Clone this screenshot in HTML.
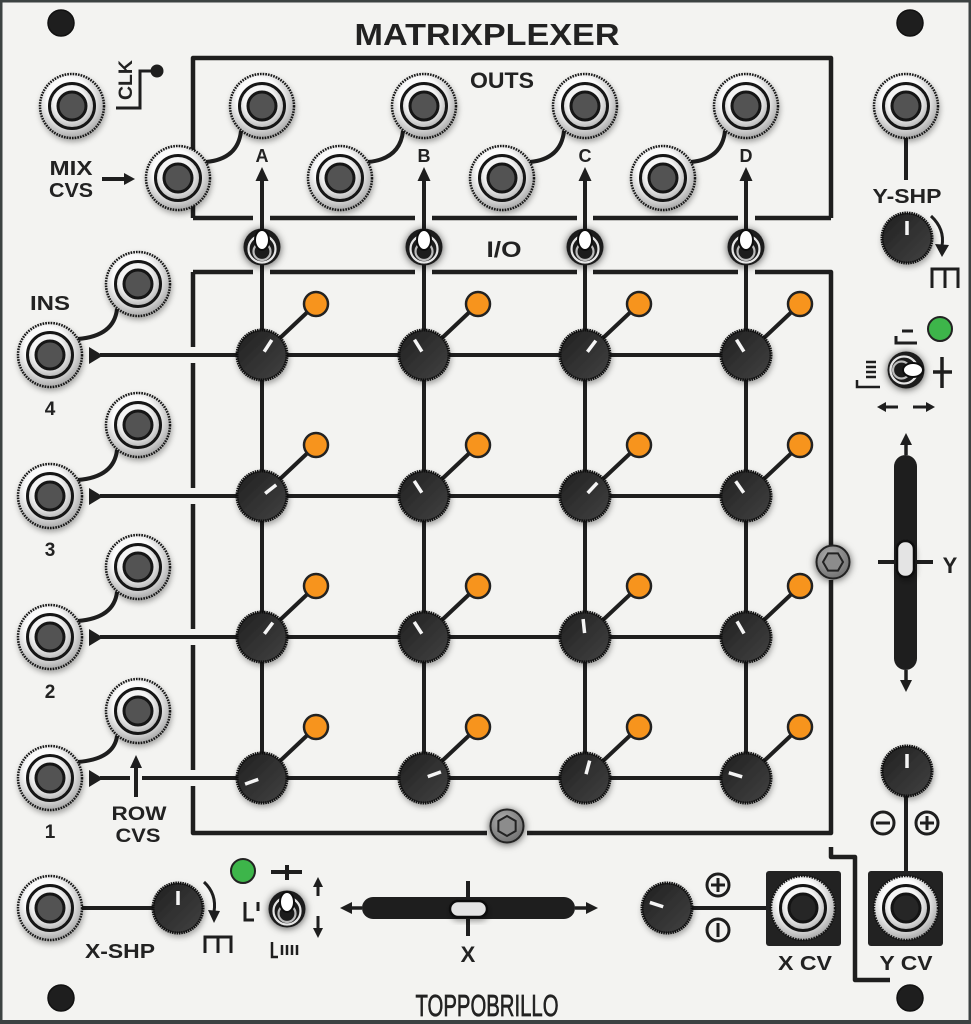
<!DOCTYPE html>
<html><head><meta charset="utf-8"><style>
html,body{margin:0;padding:0;background:#f3f3f1;}
svg{display:block}
text{font-family:"Liberation Sans",sans-serif;font-weight:bold;fill:#222;}
</style></head><body>
<svg width="971" height="1024" viewBox="0 0 971 1024" xmlns="http://www.w3.org/2000/svg" xmlns:xlink="http://www.w3.org/1999/xlink">
<defs>
 <radialGradient id="jg" cx="0.45" cy="0.4" r="0.62">
  <stop offset="0.55" stop-color="#fbfbfb"/><stop offset="1" stop-color="#a4a4a4"/>
 </radialGradient>
 <radialGradient id="jg2" cx="0.45" cy="0.4" r="0.62">
  <stop offset="0.55" stop-color="#f4f4f4"/><stop offset="1" stop-color="#b2b2b2"/>
 </radialGradient>
 <linearGradient id="kg" x1="0" y1="0" x2="1" y2="1">
  <stop offset="0" stop-color="#202020"/><stop offset="1" stop-color="#424242"/>
 </linearGradient>
 <radialGradient id="hg" cx="0.4" cy="0.35" r="0.7">
  <stop offset="0" stop-color="#b0b0b0"/><stop offset="1" stop-color="#6e6e6e"/>
 </radialGradient>
 <filter id="sh" x="-50%" y="-50%" width="200%" height="200%">
  <feDropShadow dx="1" dy="3" stdDeviation="3" flood-color="#000" flood-opacity="0.35"/>
 </filter>
 <filter id="glow" x="-80%" y="-80%" width="260%" height="260%">
  <feDropShadow dx="0" dy="1" stdDeviation="4" flood-color="#000" flood-opacity="0.65"/>
 </filter>
 <g id="jack">
  <circle r="32" fill="url(#jg)" stroke="#141414" stroke-width="2.5" stroke-dasharray="1.6 1.1"/>
  <circle r="22.5" fill="url(#jg2)" stroke="#141414" stroke-width="3"/>
  <circle r="14" fill="#525252" stroke="#141414" stroke-width="3"/>
 </g>
 <g id="jackd">
  <circle r="32" fill="url(#jg)" stroke="#141414" stroke-width="2.5" stroke-dasharray="1.6 1.1"/>
  <circle r="22.5" fill="url(#jg2)" stroke="#141414" stroke-width="3"/>
  <circle r="14" fill="#262626" stroke="#141414" stroke-width="3"/>
 </g>
 <g id="knob">
  <circle r="25" fill="url(#kg)" stroke="#111" stroke-width="3" stroke-dasharray="1.5 0.8"/>
 </g>
 <g id="tog">
  <circle r="18.5" fill="#1c1c1c"/>
  <circle cy="2" r="13.5" fill="none" stroke="#e6e6e6" stroke-width="2.2"/>
  <circle cy="4.5" r="8.5" fill="none" stroke="#bcbcbc" stroke-width="2.2"/>
  <ellipse cy="-7" rx="7" ry="10" fill="#fff" stroke="#111" stroke-width="2"/>
 </g>
</defs>

<!-- panel -->
<rect x="1.25" y="1.25" width="968.5" height="1021.5" fill="#f3f3f1" stroke="#3c4242" stroke-width="2.5"/>
<rect x="0" y="1020" width="971" height="4" fill="#3c4242"/>

<!-- screw holes -->
<g fill="#1e1e1e" stroke="#111" stroke-width="1.5">
 <circle cx="61" cy="23" r="13"/>
 <circle cx="910" cy="23" r="13"/>
 <circle cx="61" cy="998" r="13"/>
 <circle cx="910" cy="998" r="13"/>
</g>

<!-- title -->
<text x="487" y="45" font-size="31" text-anchor="middle" textLength="265" lengthAdjust="spacingAndGlyphs">MATRIXPLEXER</text>

<!-- boxes -->
<g fill="none" stroke="#1e1e1e" stroke-width="4.5" stroke-linejoin="round">
 <path d="M193,218 V58 H831 V218"/>
 <path d="M193,218 H253 M270,218 H415 M432,218 H577 M593,218 H738 M755,218 H831"/>
 <path d="M193,272 H253 M270,272 H415 M432,272 H577 M593,272 H738 M755,272 H831 V545 M831,580 V833 H527 M487,833 H193 V786 M193,770 V645 M193,629 V504 M193,488 V363 M193,347 V272"/>
 <path d="M831,847 V857 H855 V980 H890"/>
</g>

<!-- grid lines -->
<g stroke="#1e1e1e" stroke-width="4" fill="none">
 <line x1="262" y1="180" x2="262" y2="778"/>
 <line x1="424" y1="180" x2="424" y2="778"/>
 <line x1="585" y1="180" x2="585" y2="778"/>
 <line x1="746" y1="180" x2="746" y2="778"/>
 <line x1="100" y1="355" x2="746" y2="355"/>
 <line x1="100" y1="496" x2="746" y2="496"/>
 <line x1="100" y1="637" x2="746" y2="637"/>
 <path d="M100,778 H130 M142,778 H746"/>
 <line x1="136" y1="797" x2="136" y2="766"/>
 <path d="M262,355 l54,-51 M424,355 l54,-51 M585,355 l54,-51 M746,355 l54,-51"/>
 <path d="M262,496 l54,-51 M424,496 l54,-51 M585,496 l54,-51 M746,496 l54,-51"/>
 <path d="M262,637 l54,-51 M424,637 l54,-51 M585,637 l54,-51 M746,637 l54,-51"/>
 <path d="M262,778 l54,-51 M424,778 l54,-51 M585,778 l54,-51 M746,778 l54,-51"/>
 <path d="M206,162 Q238,159 241,131"/>
 <path d="M368,162 Q400,159 403,131"/>
 <path d="M530,162 Q561,159 564,131"/>
 <path d="M691,162 Q722,159 725,131"/>
 <path d="M78,339 Q114,336 117,309"/>
 <path d="M78,480 Q114,477 117,450"/>
 <path d="M78,621 Q114,618 117,592"/>
 <path d="M78,762 Q114,759 117,736"/>
 <line x1="906" y1="138" x2="906" y2="180"/>
 <line x1="82" y1="908" x2="156" y2="908"/>
 <line x1="688" y1="908" x2="775" y2="908"/>
 <line x1="906" y1="795" x2="906" y2="873"/>
 <line x1="102" y1="179" x2="128" y2="179"/>
</g>

<!-- arrowheads -->
<g fill="#1e1e1e">
 <polygon points="262,167 255.5,181 268.5,181"/>
 <polygon points="424,167 417.5,181 430.5,181"/>
 <polygon points="585,167 578.5,181 591.5,181"/>
 <polygon points="746,167 739.5,181 752.5,181"/>
 <polygon points="136,755 130,768 142,768"/>
 <polygon points="135,179 124,173 124,185"/>
 <polygon points="89,347 89,364 103,355.5"/>
 <polygon points="89,488 89,505 103,496.5"/>
 <polygon points="89,629 89,646 103,637.5"/>
 <polygon points="89,770 89,787 103,778.5"/>
</g>

<!-- orange dots -->
<g fill="#f7941d" stroke="#222" stroke-width="2.5">
 <circle cx="316" cy="304" r="12"/><circle cx="478" cy="304" r="12"/><circle cx="639" cy="304" r="12"/><circle cx="800" cy="304" r="12"/>
 <circle cx="316" cy="445" r="12"/><circle cx="478" cy="445" r="12"/><circle cx="639" cy="445" r="12"/><circle cx="800" cy="445" r="12"/>
 <circle cx="316" cy="586" r="12"/><circle cx="478" cy="586" r="12"/><circle cx="639" cy="586" r="12"/><circle cx="800" cy="586" r="12"/>
 <circle cx="316" cy="727" r="12"/><circle cx="478" cy="727" r="12"/><circle cx="639" cy="727" r="12"/><circle cx="800" cy="727" r="12"/>
</g>

<!-- knobs -->
<g>
 <g transform="translate(262,355)"><use xlink:href="#knob" href="#knob" filter="url(#sh)"/><line x1="0" y1="-4" x2="0" y2="-18" stroke="#f5f5f5" stroke-width="3.5" transform="rotate(33)"/></g>
 <g transform="translate(424,355)"><use xlink:href="#knob" href="#knob" filter="url(#sh)"/><line x1="0" y1="-4" x2="0" y2="-18" stroke="#f5f5f5" stroke-width="3.5" transform="rotate(-32)"/></g>
 <g transform="translate(585,355)"><use xlink:href="#knob" href="#knob" filter="url(#sh)"/><line x1="0" y1="-4" x2="0" y2="-18" stroke="#f5f5f5" stroke-width="3.5" transform="rotate(37)"/></g>
 <g transform="translate(746,355)"><use xlink:href="#knob" href="#knob" filter="url(#sh)"/><line x1="0" y1="-4" x2="0" y2="-18" stroke="#f5f5f5" stroke-width="3.5" transform="rotate(-32)"/></g>

 <g transform="translate(262,496)"><use xlink:href="#knob" href="#knob" filter="url(#sh)"/><line x1="0" y1="-4" x2="0" y2="-18" stroke="#f5f5f5" stroke-width="3.5" transform="rotate(52)"/></g>
 <g transform="translate(424,496)"><use xlink:href="#knob" href="#knob" filter="url(#sh)"/><line x1="0" y1="-4" x2="0" y2="-18" stroke="#f5f5f5" stroke-width="3.5" transform="rotate(-33)"/></g>
 <g transform="translate(585,496)"><use xlink:href="#knob" href="#knob" filter="url(#sh)"/><line x1="0" y1="-4" x2="0" y2="-18" stroke="#f5f5f5" stroke-width="3.5" transform="rotate(43)"/></g>
 <g transform="translate(746,496)"><use xlink:href="#knob" href="#knob" filter="url(#sh)"/><line x1="0" y1="-4" x2="0" y2="-18" stroke="#f5f5f5" stroke-width="3.5" transform="rotate(-35)"/></g>

 <g transform="translate(262,637)"><use xlink:href="#knob" href="#knob" filter="url(#sh)"/><line x1="0" y1="-4" x2="0" y2="-18" stroke="#f5f5f5" stroke-width="3.5" transform="rotate(37)"/></g>
 <g transform="translate(424,637)"><use xlink:href="#knob" href="#knob" filter="url(#sh)"/><line x1="0" y1="-4" x2="0" y2="-18" stroke="#f5f5f5" stroke-width="3.5" transform="rotate(-33)"/></g>
 <g transform="translate(585,637)"><use xlink:href="#knob" href="#knob" filter="url(#sh)"/><line x1="0" y1="-4" x2="0" y2="-18" stroke="#f5f5f5" stroke-width="3.5" transform="rotate(-6)"/></g>
 <g transform="translate(746,637)"><use xlink:href="#knob" href="#knob" filter="url(#sh)"/><line x1="0" y1="-4" x2="0" y2="-18" stroke="#f5f5f5" stroke-width="3.5" transform="rotate(-30)"/></g>

 <g transform="translate(262,778)"><use xlink:href="#knob" href="#knob" filter="url(#sh)"/><line x1="0" y1="-4" x2="0" y2="-18" stroke="#f5f5f5" stroke-width="3.5" transform="rotate(250)"/></g>
 <g transform="translate(424,778)"><use xlink:href="#knob" href="#knob" filter="url(#sh)"/><line x1="0" y1="-4" x2="0" y2="-18" stroke="#f5f5f5" stroke-width="3.5" transform="rotate(70)"/></g>
 <g transform="translate(585,778)"><use xlink:href="#knob" href="#knob" filter="url(#sh)"/><line x1="0" y1="-4" x2="0" y2="-18" stroke="#f5f5f5" stroke-width="3.5" transform="rotate(15)"/></g>
 <g transform="translate(746,778)"><use xlink:href="#knob" href="#knob" filter="url(#sh)"/><line x1="0" y1="-4" x2="0" y2="-18" stroke="#f5f5f5" stroke-width="3.5" transform="rotate(287)"/></g>

 <g transform="translate(907,238)"><use xlink:href="#knob" href="#knob" filter="url(#sh)"/><line x1="0" y1="-3" x2="0" y2="-17" stroke="#f5f5f5" stroke-width="3.5"/></g>
 <g transform="translate(178,908)"><use xlink:href="#knob" href="#knob" filter="url(#sh)"/><line x1="0" y1="-3" x2="0" y2="-17" stroke="#f5f5f5" stroke-width="3.5"/></g>
 <g transform="translate(907,771)"><use xlink:href="#knob" href="#knob" filter="url(#sh)"/><line x1="0" y1="-3" x2="0" y2="-17" stroke="#f5f5f5" stroke-width="3.5"/></g>
 <g transform="translate(667,908)"><use xlink:href="#knob" href="#knob" filter="url(#sh)"/><line x1="0" y1="-4" x2="0" y2="-18" stroke="#f5f5f5" stroke-width="3.5" transform="rotate(288)"/></g>
</g>

<!-- jacks -->
<g filter="url(#sh)">
 <use xlink:href="#jack" href="#jack" x="72" y="106"/>
 <use xlink:href="#jack" href="#jack" x="178" y="178"/>
 <use xlink:href="#jack" href="#jack" x="262" y="106"/>
 <use xlink:href="#jack" href="#jack" x="340" y="178"/>
 <use xlink:href="#jack" href="#jack" x="424" y="106"/>
 <use xlink:href="#jack" href="#jack" x="502" y="178"/>
 <use xlink:href="#jack" href="#jack" x="585" y="106"/>
 <use xlink:href="#jack" href="#jack" x="663" y="178"/>
 <use xlink:href="#jack" href="#jack" x="746" y="106"/>
 <use xlink:href="#jack" href="#jack" x="906" y="106"/>
 <use xlink:href="#jack" href="#jack" x="50" y="355"/>
 <use xlink:href="#jack" href="#jack" x="138" y="284"/>
 <use xlink:href="#jack" href="#jack" x="50" y="496"/>
 <use xlink:href="#jack" href="#jack" x="138" y="425"/>
 <use xlink:href="#jack" href="#jack" x="50" y="637"/>
 <use xlink:href="#jack" href="#jack" x="138" y="567"/>
 <use xlink:href="#jack" href="#jack" x="50" y="778"/>
 <use xlink:href="#jack" href="#jack" x="138" y="711"/>
 <use xlink:href="#jack" href="#jack" x="50" y="908"/>
</g>

<!-- CV boxes -->
<rect x="766" y="871" width="75" height="75" rx="3" fill="#222"/>
<rect x="868" y="871" width="75" height="75" rx="3" fill="#222"/>
<use xlink:href="#jackd" href="#jackd" x="803" y="908"/>
<use xlink:href="#jackd" href="#jackd" x="906" y="908"/>

<!-- toggles -->
<g filter="url(#glow)">
 <use xlink:href="#tog" href="#tog" x="262" y="247"/>
 <use xlink:href="#tog" href="#tog" x="424" y="247"/>
 <use xlink:href="#tog" href="#tog" x="585" y="247"/>
 <use xlink:href="#tog" href="#tog" x="746" y="247"/>
 <use xlink:href="#tog" href="#tog" x="287" y="909"/>
 <g transform="translate(906,370) rotate(90)"><use xlink:href="#tog" href="#tog"/></g>
</g>

<!-- hex screws -->
<g filter="url(#glow)">
 <g transform="translate(833,562)">
  <circle r="16.5" fill="url(#hg)" stroke="#222" stroke-width="2"/>
  <polygon points="10,0 5,8.66 -5,8.66 -10,0 -5,-8.66 5,-8.66" fill="#8c8c8c" stroke="#222" stroke-width="2"/>
 </g>
 <g transform="translate(507,826)">
  <circle r="16.5" fill="url(#hg)" stroke="#222" stroke-width="2"/>
  <polygon points="0,-10 8.66,-5 8.66,5 0,10 -8.66,5 -8.66,-5" fill="#8c8c8c" stroke="#222" stroke-width="2"/>
 </g>
</g>

<!-- LEDs -->
<circle cx="940" cy="329" r="12" fill="#3db54a" stroke="#222" stroke-width="2"/>
<circle cx="243" cy="871" r="12" fill="#3db54a" stroke="#222" stroke-width="2"/>

<!-- sliders -->
<g>
 <rect x="362" y="897" width="213" height="22" rx="11" fill="#1e1e1e"/>
 <line x1="350" y1="908" x2="362" y2="908" stroke="#1e1e1e" stroke-width="3.5"/>
 <line x1="575" y1="908" x2="587" y2="908" stroke="#1e1e1e" stroke-width="3.5"/>
 <polygon points="340,908 352,902 352,914" fill="#1e1e1e"/>
 <polygon points="598,908 586,902 586,914" fill="#1e1e1e"/>
 <line x1="468" y1="881" x2="468" y2="936" stroke="#1e1e1e" stroke-width="4"/>
 <rect x="450" y="901" width="37" height="16" rx="8" fill="#e4e4e4" stroke="#111" stroke-width="2.5" filter="url(#sh)"/>

 <rect x="894" y="455" width="23" height="215" rx="11.5" fill="#1e1e1e"/>
 <line x1="906" y1="443" x2="906" y2="455" stroke="#1e1e1e" stroke-width="3.5"/>
 <line x1="906" y1="670" x2="906" y2="682" stroke="#1e1e1e" stroke-width="3.5"/>
 <polygon points="906,433 900,445 912,445" fill="#1e1e1e"/>
 <polygon points="906,692 900,680 912,680" fill="#1e1e1e"/>
 <line x1="878" y1="562" x2="933" y2="562" stroke="#1e1e1e" stroke-width="4"/>
 <rect x="897" y="541" width="17" height="36" rx="8" fill="#e4e4e4" stroke="#111" stroke-width="2.5" filter="url(#sh)"/>
</g>

<!-- symbols -->
<g fill="none" stroke="#1e1e1e" stroke-width="3" stroke-linecap="butt">
 <path d="M116,108 H140 V71 H155"/>
 <path d="M931,216 Q945,229 942,246"/>
 <path d="M932,288 V269 H958 V288 M945,269 V288"/>
 <path d="M204,882 Q217,894 214,912"/>
 <path d="M205,953 V937 H231 V953 M218,937 V953"/>
 <path d="M902,331 H913 M896,336 V343 H917"/>
 <path d="M866,362 H876 M866,367 H876 M866,372 H876 M866,377 H876 M857,380 V387 H880" stroke-width="2.5"/>
 <path d="M942,357 V388 M933,372 H952" stroke-width="3.5"/>
 <path d="M898,407 H884 M913,407 H928"/>
 <path d="M271,872 H302 M287,865 V880" stroke-width="4"/>
 <path d="M245,902 V920 H254 M258,902 V911"/>
 <path d="M272,942 V957 H278 M282,945 V955 M287,945 V955 M292,945 V955 M297,945 V955" stroke-width="2.5"/>
 <path d="M318,886 V896 M318,916 V929"/>
 <circle cx="718" cy="885" r="11"/>
 <path d="M711,885 H725 M718,878 V892"/>
 <circle cx="718" cy="930" r="11"/>
 <path d="M718,923 V937"/>
 <circle cx="883" cy="823" r="11"/>
 <path d="M876,823 H890"/>
 <circle cx="927" cy="823" r="11"/>
 <path d="M920,823 H934 M927,816 V830"/>
</g>
<g fill="#1e1e1e">
 <circle cx="157" cy="71" r="6.5"/>
 <polygon points="942,257 935,244 949,245"/>
 <polygon points="214,923 208,910 220,911"/>
 <polygon points="877,407 886,402 886,412"/>
 <polygon points="935,407 926,402 926,412"/>
 <polygon points="318,877 313,887 323,887"/>
 <polygon points="318,938 313,928 323,928"/>
</g>

<!-- labels -->
<text x="502" y="88" font-size="22" text-anchor="middle" textLength="64" lengthAdjust="spacingAndGlyphs">OUTS</text>
<text x="504" y="257" font-size="22" text-anchor="middle" textLength="35" lengthAdjust="spacingAndGlyphs">I/O</text>
<text x="262" y="162" font-size="18" text-anchor="middle">A</text>
<text x="424" y="162" font-size="18" text-anchor="middle">B</text>
<text x="585" y="162" font-size="18" text-anchor="middle">C</text>
<text x="746" y="162" font-size="18" text-anchor="middle">D</text>
<text x="71" y="175" font-size="20" text-anchor="middle" textLength="43" lengthAdjust="spacingAndGlyphs">MIX</text>
<text x="71" y="197" font-size="20" text-anchor="middle" textLength="44" lengthAdjust="spacingAndGlyphs">CVS</text>
<text transform="translate(132,80) rotate(-90)" font-size="19" text-anchor="middle" textLength="40" lengthAdjust="spacingAndGlyphs">CLK</text>
<text x="907" y="203" font-size="20" text-anchor="middle" textLength="69" lengthAdjust="spacingAndGlyphs">Y-SHP</text>
<text x="50" y="310" font-size="20" text-anchor="middle" textLength="40" lengthAdjust="spacingAndGlyphs">INS</text>
<text x="50" y="415" font-size="19" text-anchor="middle">4</text>
<text x="50" y="556" font-size="19" text-anchor="middle">3</text>
<text x="50" y="698" font-size="19" text-anchor="middle">2</text>
<text x="50" y="838" font-size="19" text-anchor="middle">1</text>
<text x="139" y="820" font-size="19" text-anchor="middle" textLength="55" lengthAdjust="spacingAndGlyphs">ROW</text>
<text x="138" y="842" font-size="19" text-anchor="middle" textLength="45" lengthAdjust="spacingAndGlyphs">CVS</text>
<text x="950" y="573" font-size="22" text-anchor="middle">Y</text>
<text x="120" y="958" font-size="20" text-anchor="middle" textLength="70" lengthAdjust="spacingAndGlyphs">X-SHP</text>
<text x="468" y="962" font-size="22" text-anchor="middle">X</text>
<text x="805" y="970" font-size="20" text-anchor="middle" textLength="54" lengthAdjust="spacingAndGlyphs">X CV</text>
<text x="906" y="970" font-size="20" text-anchor="middle" textLength="53" lengthAdjust="spacingAndGlyphs">Y CV</text>
<text x="487" y="1016" font-size="31" text-anchor="middle" textLength="143" lengthAdjust="spacingAndGlyphs" stroke="#222" stroke-width="0.7" style="font-weight:normal;font-family:'Liberation Sans Narrow','Liberation Sans',sans-serif">TOPPOBRILLO</text>
</svg>
</body></html>
